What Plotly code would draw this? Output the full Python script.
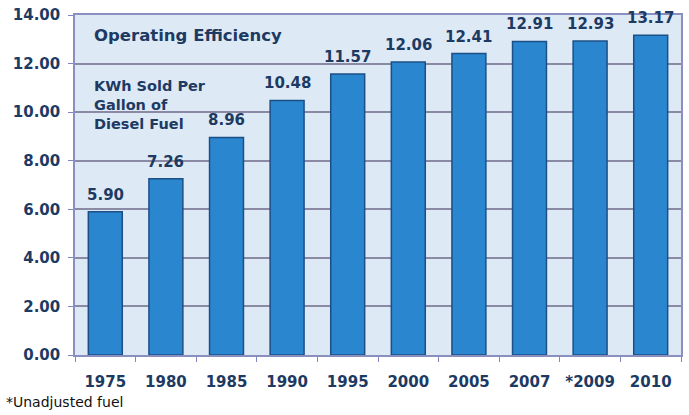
import plotly.graph_objects as go

years = ["1975", "1980", "1985", "1990", "1995", "2000", "2005", "2007", "*2009", "2010"]
values = [5.90, 7.26, 8.96, 10.48, 11.57, 12.06, 12.41, 12.91, 12.93, 13.17]
value_labels = ["5.90", "7.26", "8.96", "10.48", "11.57", "12.06", "12.41", "12.91", "12.93", "13.17"]
y_ticks = [0, 2, 4, 6, 8, 10, 12, 14]
y_tick_labels = ["0.00", "2.00", "4.00", "6.00", "8.00", "10.00", "12.00", "14.00"]

navy = "#1d3a63"
FONT = "DejaVu Sans"
fig = go.Figure()
fig.add_trace(go.Bar(
    x=years, y=values,
    marker=dict(color="#2a86cf", line=dict(color="#1c4f86", width=1.5)),
    hoverinfo="skip",
))
for i, (v, lab) in enumerate(zip(values, value_labels)):
    fig.add_annotation(x=i, y=v, xref="x", yref="y", yanchor="bottom", yshift=6,
                       text="<b>%s</b>" % lab, showarrow=False,
                       font=dict(family=FONT, size=15, color=navy))
fig.update_layout(
    width=689, height=415,
    margin=dict(l=75, r=6, t=12, b=60),
    paper_bgcolor="white", plot_bgcolor="#dde9f5",
    bargap=0.44, showlegend=False,
    font=dict(family=FONT, color=navy),
)
fig.update_xaxes(
    type="category", range=[-0.5, len(years) - 0.5],
    tickson="boundaries", ticks="outside", ticklen=5,
    tickcolor="#7f86c4", showline=True, linecolor="#8a8fc0", linewidth=1.5,
    mirror=True, showgrid=False, ticklabelstandoff=12,
    tickvals=years, ticktext=["<b>%s</b>" % y for y in years],
    tickfont=dict(family=FONT, size=15, color=navy),
)
fig.update_yaxes(
    range=[0, 14], tickvals=y_ticks, ticktext=["<b>%s</b>" % t for t in y_tick_labels],
    ticks="outside", ticklen=5, tickcolor="#7f86c4", ticklabelstandoff=5,
    showline=True, linecolor="#8a8fc0", linewidth=1.5, mirror=True,
    showgrid=True, gridcolor="#8a8aa4", gridwidth=1.5, zeroline=False,
    tickfont=dict(family=FONT, size=15, color=navy),
)
fig.add_annotation(x=0.028, y=0.939, xref="paper", yref="paper", xanchor="left", yanchor="middle",
                   text="<b>Operating Efficiency</b>", showarrow=False,
                   font=dict(family=FONT, size=16.5, color=navy))
fig.add_annotation(x=0.028, y=0.735, xref="paper", yref="paper", xanchor="left", yanchor="middle",
                   text="<b>KWh Sold Per<br>Gallon of<br>Diesel Fuel</b>", showarrow=False, align="left",
                   font=dict(family=FONT, size=14.5, color=navy))
fig.add_annotation(x=0, y=0, xref="paper", yref="paper", xanchor="left", yanchor="middle",
                   xshift=-71, yshift=-47,
                   text="*Unadjusted fuel", showarrow=False,
                   font=dict(family=FONT, size=14, color="#111111"))
fig.write_html("out.html", config={"displayModeBar": False},
               post_script="document.body.style.margin='0px';")
